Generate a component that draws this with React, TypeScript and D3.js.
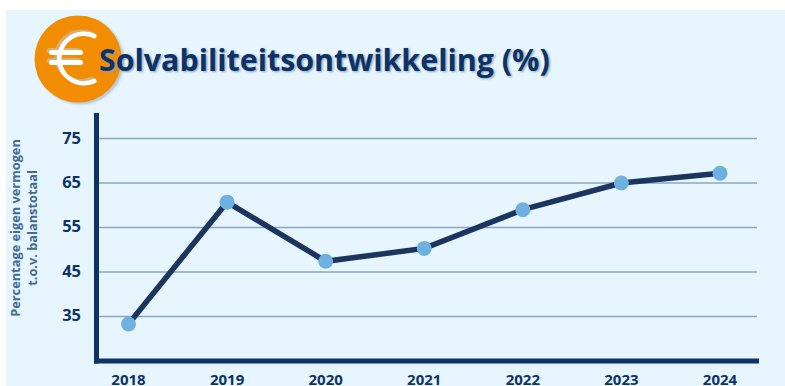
import React from "react";
import * as d3 from "d3";

const years = ["2018", "2019", "2020", "2021", "2022", "2023", "2024"];
const solvency = [33.3, 60.7, 47.4, 50.3, 59, 65, 67.2];
const yTicks = [35, 45, 55, 65, 75];
const titleText = "Solvabiliteitsontwikkeling (%)";
const axisTitleLines = ["Percentage eigen vermogen", "t.o.v. balanstotaal"];

const WIDTH = 785;
const HEIGHT = 386;
const NAVY = "#0d3366";
const LINE = "#1c355f";
const DOT = "#6eb0e0";
const GRID = "#8ba4bf";
const FONT = "'Open Sans', sans-serif";

const x = d3.scalePoint<string>().domain(years).range([128.5, 720]);
const y = d3.scaleLinear().domain([35, 75]).range([316.4, 138.6]);

const linePath = d3
  .line<number>()
  .x((_, i) => x(years[i]) as number)
  .y((d) => y(d))(solvency) as string;

// The euro sign in the badge: a ring open on its right side, with two short bars.
const euroRing = d3
  .arc()
  .innerRadius(22.5)
  .outerRadius(27)
  .cornerRadius(2)
  .startAngle((150 * Math.PI) / 180)
  .endAngle((390 * Math.PI) / 180)({} as any) as string;

function Euro({ fill }: { fill: string }) {
  return (
    <g fill={fill} transform="translate(84 58.5)">
      <path d={euroRing} />
      <rect x={-35} y={-8.5} width={34} height={5} rx={2.5} />
      <rect x={-35} y={1.5} width={34} height={5} rx={2.5} />
    </g>
  );
}

export default function App() {
  return (
    <svg
      width={WIDTH}
      height={HEIGHT}
      viewBox={`0 0 ${WIDTH} ${HEIGHT}`}
      style={{ position: "absolute", left: 0, top: 0, display: "block" }}
    >
      <defs>
        <filter id="soft" x="-20%" y="-20%" width="140%" height="140%">
          <feGaussianBlur stdDeviation="1.2" />
        </filter>
      </defs>
      <rect width={WIDTH} height={HEIGHT} fill="#ffffff" />
      <rect x={6} y={10} width={WIDTH - 6} height={HEIGHT - 10} fill="#e6f5fe" />

      {/* Badge */}
      <circle cx={80.5} cy={61} r={43.5} fill="#b9c6d2" filter="url(#soft)" />
      <circle cx={78} cy={59} r={43.5} fill="#f28c00" />
      <g opacity={0.6} transform="translate(-2.5 -2)">
        <Euro fill="#c3c9d0" />
      </g>
      <Euro fill="#ffffff" />

      {/* Title with its drop shadow */}
      <text
        x={100.5}
        y={72}
        fontFamily={FONT}
        fontWeight={700}
        fontSize={30.4}
        fill="#8ea3ba"
        filter="url(#soft)"
      >
        {titleText}
      </text>
      <text x={99} y={71} fontFamily={FONT} fontWeight={700} fontSize={30.4} fill={NAVY}>
        {titleText}
      </text>

      {/* Grid */}
      {yTicks.map((t) => (
        <line key={t} x1={98} x2={757} y1={y(t)} y2={y(t)} stroke={GRID} strokeWidth={1.5} />
      ))}

      {/* Axes */}
      <line x1={96.5} x2={96.5} y1={113} y2={363.5} stroke={NAVY} strokeWidth={5} />
      <line x1={94} x2={759} y1={361} y2={361} stroke={NAVY} strokeWidth={5} />

      {/* Tick labels */}
      {yTicks.map((t) => (
        <text
          key={t}
          x={81}
          y={y(t) + 0.5}
          textAnchor="end"
          dominantBaseline="middle"
          fontFamily={FONT}
          fontWeight={700}
          fontSize={16.5}
          fill={NAVY}
        >
          {t}
        </text>
      ))}
      {years.map((yr) => (
        <text
          key={yr}
          x={x(yr)}
          y={385}
          textAnchor="middle"
          fontFamily={FONT}
          fontWeight={700}
          fontSize={15}
          fill={NAVY}
        >
          {yr}
        </text>
      ))}

      {/* Axis title */}
      <g
        transform="translate(20 228) rotate(-90)"
        fontFamily={FONT}
        fontWeight={700}
        fontSize={12.8}
        fill="#3f6a94"
        textAnchor="middle"
      >
        <text x={0} y={0}>{axisTitleLines[0]}</text>
        <text x={0} y={17}>{axisTitleLines[1]}</text>
      </g>

      {/* Series */}
      <path d={linePath} fill="none" stroke={LINE} strokeWidth={5.5} strokeLinejoin="miter" />
      {solvency.map((v, i) => (
        <circle key={years[i]} cx={x(years[i])} cy={y(v)} r={7.5} fill={DOT} />
      ))}
    </svg>
  );
}
